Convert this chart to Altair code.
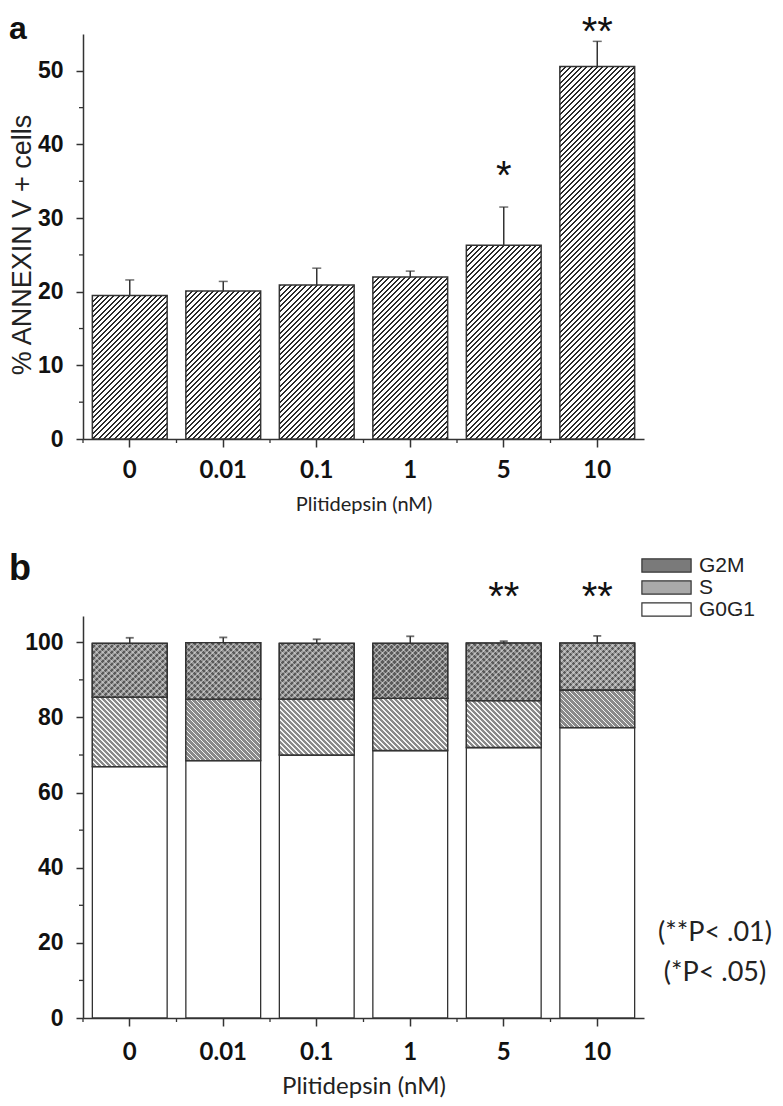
import altair as alt
import pandas as pd

# ---------------- data ----------------
doses = ["0", "0.01", "0.1", "1", "5", "10"]

# panel a : % Annexin V+ cells
annexin_mean = [19.5, 20.1, 20.9, 22.0, 26.3, 50.6]
annexin_err_top = [21.6, 21.4, 23.2, 22.8, 31.5, 54.0]
sig_a_doses = ["5", "10"]
sig_a_marks = ["*", "**"]
sig_a_level = [34.0, 53.5]

# panel b : cell cycle distribution (stacked)
phases = ["G2M", "S", "G0G1"]
g0g1 = [66.9, 68.5, 70.0, 71.2, 72.0, 77.3]
s_phase = [18.5, 16.4, 14.9, 13.9, 12.5, 10.0]
g2m = [14.3, 15.0, 14.8, 14.6, 15.3, 12.5]
cycle_err_top = [101.2, 101.3, 100.8, 101.6, 100.3, 101.7]
sig_b_doses = ["5", "10"]
sig_b_marks = ["**", "**"]
sig_b_level = [108.6, 108.6]
p_notes = ["(**P< .01)", "(*P< .05)"]
p_note_level = [22.6, 12.0]

panel_labels = ["a", "b"]
minor_a = [5, 15, 25, 35, 45]
minor_b = [10, 30, 50, 70, 90]
major_a = [0, 10, 20, 30, 40, 50]
major_b = [0, 20, 40, 60, 80, 100]

# ---------------- geometry / style ----------------
W = 561
HA = 405
HB = 402
YMAX_A = 55
YMAX_B = 107
PAD_IN = 0.2
PAD_OUT = 0.1
STEP = W / (len(doses) - PAD_IN + 2 * PAD_OUT)
BW = STEP * (1 - PAD_IN)

AX = "#333333"
ARIAL = "Liberation Sans"
CAL = "Lato"


def hatch(h, direction, line, bg, period, thick, w=BW):
    """Striped linear gradient giving 45-degree hatching on a w x h box."""
    h = max(h, 0.5)
    L = w + h
    r = h / w
    k = (1 + r) / (1 + r * r)
    if direction == "/":
        x1, y1, x2, y2 = 0, 0, k, k * r
    else:
        x1, y1, x2, y2 = 0, 1, k, 1 - k * r
    stops = []
    pos = 0.0
    while pos < L:
        a = round(pos / L, 5)
        b = round(min((pos + thick) / L, 1.0), 5)
        c = round(min((pos + period) / L, 1.0), 5)
        stops += [
            {"offset": a, "color": line},
            {"offset": b, "color": line},
            {"offset": b, "color": bg},
            {"offset": c, "color": bg},
        ]
        pos += period
    return {"gradient": "linear", "x1": x1, "y1": y1, "x2": x2, "y2": y2, "stops": stops}


def x_axis(title_size, label_pad, title_pad):
    return alt.Axis(
        labelAngle=0, labelFont=CAL, labelFontWeight="bold", labelFontSize=24,
        labelColor="#111", labelPadding=label_pad, tickSize=8, tickColor=AX, tickWidth=1.5,
        domainColor=AX, domainWidth=1.5, titleFont=CAL, titleFontWeight="normal",
        titleFontSize=title_size, titleColor="#222", titlePadding=title_pad, grid=False,
    )


def xscale():
    return alt.Scale(domain=doses, paddingInner=PAD_IN, paddingOuter=PAD_OUT)


def x_enc(axis):
    return alt.X("dose:N", scale=xscale(), axis=axis, title="Plitidepsin (nM)")


# ======================= panel a =======================
xa_axis = x_axis(20, 11, 12)
ya_axis = alt.Axis(values=major_a, labelFont=ARIAL, labelFontWeight="bold", labelFontSize=23,
                   labelColor="#111", labelPadding=13, tickSize=7, tickColor=AX, tickWidth=1.5,
                   domainColor=AX, domainWidth=1.5, titleFont=ARIAL, titleFontWeight="normal",
                   titleFontSize=27, titleColor="#222", titlePadding=1, titleY=HA / 2 + 8,
                   grid=False)
ysa = alt.Scale(domain=[0, YMAX_A], nice=False)
YT_A = "% ANNEXIN V + cells"


def ya(field):
    return alt.Y(field, scale=ysa, axis=ya_axis, title=YT_A)


dfa = pd.DataFrame({"dose": doses, "mean": annexin_mean, "err": annexin_err_top})
layers_a = []
for d, m in zip(doses, annexin_mean):
    h = m / YMAX_A * HA
    layers_a.append(
        alt.Chart(dfa).transform_filter(alt.datum.dose == d)
        .mark_bar(fill=hatch(h, "/", "#2a2a2a", "#ffffff", 5.3, 2.0), stroke=AX, strokeWidth=1.5)
        .encode(x=x_enc(xa_axis), y=ya("mean:Q"))
    )
layers_a.append(alt.Chart(dfa).mark_rule(color=AX, strokeWidth=1.5)
                .encode(x=x_enc(xa_axis), y=ya("mean:Q"), y2="err:Q"))
layers_a.append(alt.Chart(dfa).mark_tick(color=AX, thickness=1.5, size=9)
                .encode(x=x_enc(xa_axis), y=ya("err:Q")))
layers_a.append(alt.Chart(pd.DataFrame({"v": minor_a})).mark_rule(color=AX, strokeWidth=1.3)
                .encode(y=ya("v:Q"), x=alt.value(0), x2=alt.value(-4)))
layers_a.append(alt.Chart(dfa).mark_rule(color=AX, strokeWidth=1.3, xOffset=-STEP * PAD_IN / 2)
                .encode(x=alt.X("dose:N", bandPosition=0, scale=xscale(),
                                axis=xa_axis, title="Plitidepsin (nM)"),
                        y=alt.value(HA), y2=alt.value(HA + 4)))
layers_a.append(alt.Chart(pd.DataFrame({"dose": sig_a_doses, "mark": sig_a_marks, "level": sig_a_level}))
                .mark_text(font=ARIAL, fontSize=40, align="center", baseline="alphabetic", color="#111")
                .encode(x=x_enc(xa_axis), y=ya("level:Q"), text="mark:N"))
layers_a.append(alt.Chart(pd.DataFrame({"t": [panel_labels[0]]}))
                .mark_text(font=ARIAL, fontWeight="bold", fontSize=32, align="left",
                           baseline="alphabetic", color="#111")
                .encode(text="t:N", x=alt.value(-74), y=alt.value(5)))

panel_a = alt.layer(*layers_a).properties(width=W, height=HA)

# ======================= panel b =======================
xb_axis = x_axis(24, 14, 10)
yb_axis = alt.Axis(values=major_b, labelFont=ARIAL, labelFontWeight="bold", labelFontSize=23,
                   labelColor="#111", labelPadding=13, tickSize=7, tickColor=AX, tickWidth=1.5,
                   domainColor=AX, domainWidth=1.5, grid=False)
ysb = alt.Scale(domain=[0, YMAX_B], nice=False)


def yb(field):
    return alt.Y(field, scale=ysb, axis=yb_axis, title=None)


rows = []
for i, d in enumerate(doses):
    lo = 0.0
    for ph, val in (("G0G1", g0g1[i]), ("S", s_phase[i]), ("G2M", g2m[i])):
        rows.append({"dose": d, "phase": ph, "lo": lo, "hi": lo + val})
        lo += val
dfb = pd.DataFrame(rows)
dfe = pd.DataFrame({"dose": doses,
                    "total": [a + b + c for a, b, c in zip(g0g1, s_phase, g2m)],
                    "err": cycle_err_top})

layers_b = [
    alt.Chart(dfb).mark_bar(stroke=AX, strokeWidth=1.3).encode(
        x=x_enc(xb_axis), y=yb("lo:Q"), y2="hi:Q",
        fill=alt.Fill("phase:N",
                      scale=alt.Scale(domain=phases, range=["#7a7a7a", "#a9a9a9", "#ffffff"]),
                      legend=alt.Legend(title=None, orient="none", legendX=573, legendY=-61,
                                        direction="vertical", symbolType="M-3,-0.8H3V0.8H-3Z",
                                        symbolSize=269, symbolStrokeColor=AX, symbolStrokeWidth=1.2,
                                        labelFont=ARIAL, labelFontSize=21, labelColor="#222",
                                        labelOffset=22, rowPadding=0, padding=0))
    )
]
for i, d in enumerate(doses):
    hs = s_phase[i] / YMAX_B * HB
    hg = g2m[i] / YMAX_B * HB
    seg_s = alt.Chart(dfb).transform_filter((alt.datum.dose == d) & (alt.datum.phase == "S"))
    seg_g = alt.Chart(dfb).transform_filter((alt.datum.dose == d) & (alt.datum.phase == "G2M"))
    layers_b.append(seg_s.mark_bar(fill=hatch(hs, "\\", "#f4f4f4", "#8a8a8a", 5.0, 1.7),
                                   stroke=AX, strokeWidth=1.3)
                    .encode(x=x_enc(xb_axis), y=yb("lo:Q"), y2="hi:Q"))
    layers_b.append(seg_g.mark_bar(fill=hatch(hg, "/", "#a0a0a0", "#5a5a5a", 6.0, 2.4),
                                   stroke=AX, strokeWidth=1.3)
                    .encode(x=x_enc(xb_axis), y=yb("lo:Q"), y2="hi:Q"))
    layers_b.append(seg_g.mark_bar(fill=hatch(hg, "\\", "rgba(255,255,255,0.35)", "rgba(0,0,0,0)", 6.0, 2.4),
                                   stroke=AX, strokeWidth=1.3)
                    .encode(x=x_enc(xb_axis), y=yb("lo:Q"), y2="hi:Q"))

layers_b.append(alt.Chart(dfe).mark_rule(color=AX, strokeWidth=1.5)
                .encode(x=x_enc(xb_axis), y=yb("total:Q"), y2="err:Q"))
layers_b.append(alt.Chart(dfe).mark_tick(color=AX, thickness=1.8, size=8)
                .encode(x=x_enc(xb_axis), y=yb("err:Q")))
layers_b.append(alt.Chart(pd.DataFrame({"v": minor_b})).mark_rule(color=AX, strokeWidth=1.3)
                .encode(y=yb("v:Q"), x=alt.value(0), x2=alt.value(-4)))
layers_b.append(alt.Chart(dfe).mark_rule(color=AX, strokeWidth=1.3, xOffset=-STEP * PAD_IN / 2)
                .encode(x=alt.X("dose:N", bandPosition=0, scale=xscale(),
                                axis=xb_axis, title="Plitidepsin (nM)"),
                        y=alt.value(HB), y2=alt.value(HB + 4)))
layers_b.append(alt.Chart(pd.DataFrame({"dose": sig_b_doses, "mark": sig_b_marks, "level": sig_b_level}))
                .mark_text(font=ARIAL, fontSize=40, align="center", baseline="alphabetic", color="#111")
                .encode(x=x_enc(xb_axis), y=yb("level:Q"), text="mark:N"))
layers_b.append(alt.Chart(pd.DataFrame({"note": p_notes, "level": p_note_level}))
                .mark_text(font=CAL, fontSize=27, align="center", baseline="middle", color="#222")
                .encode(x=alt.value(W + 71), y=yb("level:Q"), text="note:N"))
layers_b.append(alt.Chart(pd.DataFrame({"t": [panel_labels[1]]}))
                .mark_text(font=ARIAL, fontWeight="bold", fontSize=36, align="left",
                           baseline="alphabetic", color="#111")
                .encode(text="t:N", x=alt.value(-74), y=alt.value(-36)))

panel_b = alt.layer(*layers_b).properties(width=W, height=HB)

chart = (
    alt.vconcat(panel_a, panel_b, spacing=37)
    .resolve_legend(fill="independent")
    .properties(padding={"top": 5, "left": 0, "right": 0, "bottom": 0})
    .configure_view(stroke=None)
)

chart.save("out.html", embed_options={"renderer": "svg", "actions": False})
